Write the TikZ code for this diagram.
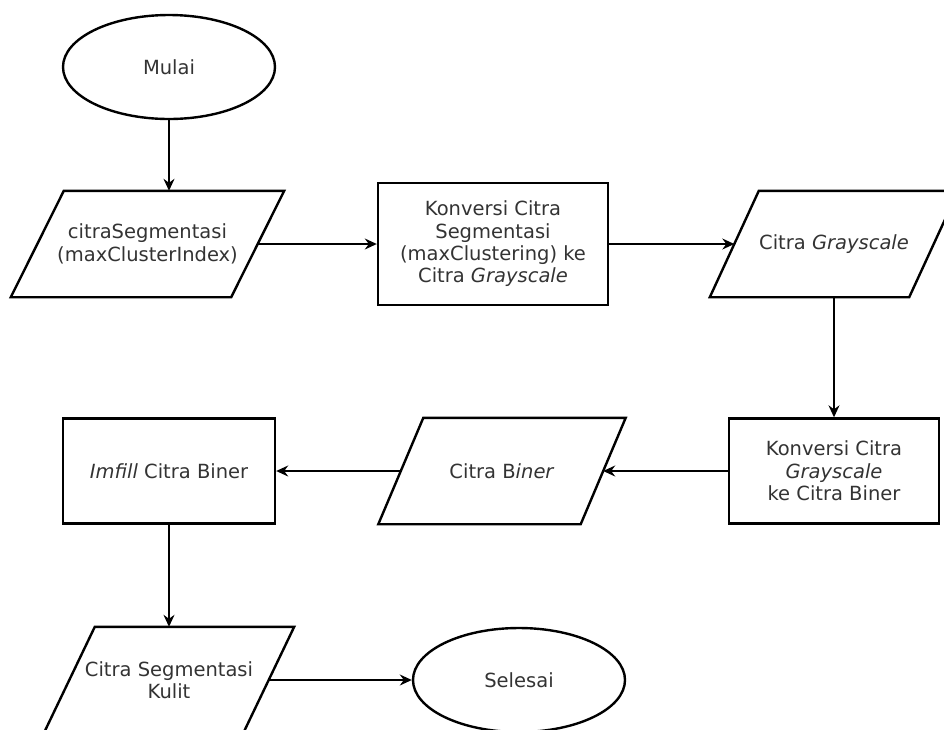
\documentclass[tikz,border=0pt]{standalone}
\usepackage{fontspec}
\setmainfont{DejaVu Sans}
\usetikzlibrary{arrows.meta,shapes.geometric}

\begin{document}
\begin{tikzpicture}[x=1pt,y=-1pt,
    font=\fontsize{19.5}{22.4}\selectfont, text=black!80,
    termbox/.style={ellipse, draw, line width=2.4pt,
      minimum width=212pt, minimum height=104pt, inner sep=0pt},
    procbox/.style={rectangle, draw, line width=2.4pt, align=center, inner sep=0pt},
    iobox/.style={rectangle, align=center, minimum width=#1, minimum height=104pt,
      inner sep=0pt, outer sep=1.2pt},
    ioline/.style={line width=2.4pt, line join=miter},
    flow/.style={line width=1.5pt, -{Stealth[length=12pt,width=11pt,inset=4pt]}}]
    \clip (0,0) rectangle (944,729);

    \node[termbox] (MULAI) at (169,67) {Mulai};
    \node[iobox=218pt] (SEG) at (147.5,244) {citraSegmentasi\\(maxClusterIndex)};
    \node[procbox, minimum width=230pt, minimum height=122pt] (KONV1) at (493,244)
      {Konversi Citra\\Segmentasi\\(maxClustering) ke\\Citra \textit{Grayscale}};
    \node[iobox=197pt] (GRAY) at (834,244) {Citra \textit{Grayscale}};

    \node[procbox, minimum width=210pt, minimum height=105pt] (KONV2) at (834,471)
      {Konversi Citra\\\textit{Grayscale}\\ke Citra Biner};
    \node[iobox=200pt] (BINER) at (502,471) {Citra B\textit{iner}};
    \node[procbox, minimum width=212pt, minimum height=105pt] (IMFILL) at (169,471)
      {\textit{Imfill} Citra Biner};

    \node[iobox=197pt] (KULIT) at (169,680) {Citra Segmentasi\\Kulit};
    \node[termbox] (SELESAI) at (519,680) {Selesai};

    % slanted sides of the data boxes
    \foreach \n/\s in {SEG/26.5, GRAY/24.5, BINER/22.5, KULIT/25.5}
      \draw[ioline] ([xshift=\s pt]\n.north west) -- ([xshift=\s pt]\n.north east)
        -- ([xshift=-\s pt]\n.south east) -- ([xshift=-\s pt]\n.south west) -- cycle;

    \draw[flow] (MULAI.south) -- (MULAI.south |- SEG.north);
    \draw[flow] (SEG.east) -- (KONV1.west);
    \draw[flow] (KONV1.east) -- (GRAY.west);
    \draw[flow] (GRAY.south) -- (KONV2.north);
    \draw[flow] (KONV2.west) -- (BINER.east);
    \draw[flow] (BINER.west) -- (IMFILL.east);
    \draw[flow] (IMFILL.south) -- (KULIT.north);
    \draw[flow] (KULIT.east) -- (SELESAI.west);
\end{tikzpicture}
\end{document}
